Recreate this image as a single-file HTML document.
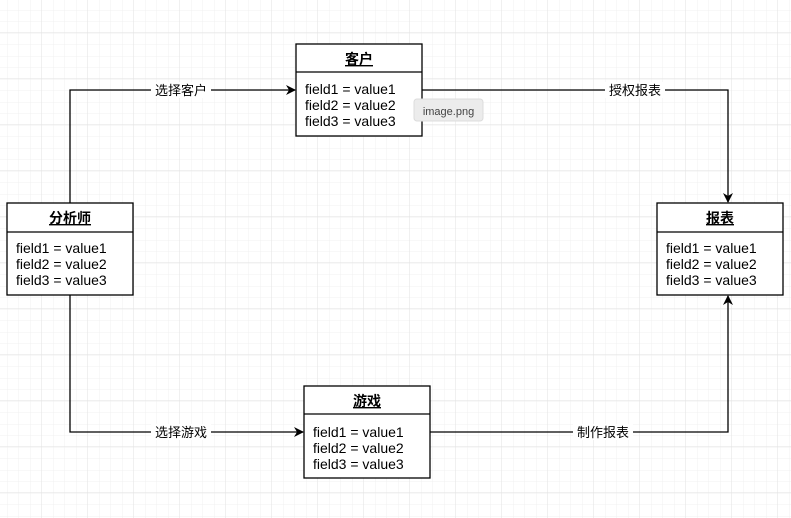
<!DOCTYPE html>
<html><head><meta charset="utf-8"><style>
html,body{margin:0;padding:0;background:#fff;}
svg{display:block;}
text{font-family:"Liberation Sans","Noto Sans CJK SC",sans-serif;}
</style></head><body>
<svg width="791" height="518" viewBox="0 0 791 518" xmlns="http://www.w3.org/2000/svg">
<defs>
<pattern id="g" width="11.5" height="11.5" patternUnits="userSpaceOnUse" x="-4" y="-1">
<path d="M11.5 0V11.5M0 11.5H11.5" stroke="#f0f0f0" stroke-width="1" fill="none"/>
</pattern>
<pattern id="G" width="46" height="46" patternUnits="userSpaceOnUse" x="-4" y="-13">
<path d="M46 0V46M0 46H46" stroke="#e2e2e2" stroke-width="1" fill="none"/>
</pattern>
<marker id="a" markerWidth="10" markerHeight="10" refX="9" refY="5" orient="auto" markerUnits="userSpaceOnUse">
<path d="M0,0 L10,5 L0,10 L3,5 Z" fill="#000"/>
</marker>
</defs>
<rect width="791" height="518" fill="#fff"/>
<rect width="791" height="518" fill="url(#g)"/>
<rect width="791" height="518" fill="url(#G)"/>

<g stroke="#000" stroke-width="1.3" fill="none">
<path d="M70 203 V90 H295" marker-end="url(#a)"/>
<path d="M422 90 H728 V202" marker-end="url(#a)"/>
<path d="M70 295 V432 H303" marker-end="url(#a)"/>
<path d="M430 432 H728 V296" marker-end="url(#a)"/>
</g>
<g font-size="13" fill="#000" text-anchor="middle">
<rect x="151" y="82" width="60" height="16" fill="#fff"/><text x="181" y="95">选择客户</text>
<rect x="605" y="82" width="60" height="16" fill="#fff"/><text x="635" y="95">授权报表</text>
<rect x="151" y="424" width="60" height="16" fill="#fff"/><text x="181" y="437">选择游戏</text>
<rect x="573" y="424" width="60" height="16" fill="#fff"/><text x="603" y="437">制作报表</text>
</g>

<g font-size="14" fill="#000">
<g transform="translate(296,44)">
<rect x="0" y="0" width="126" height="92" fill="#fff" stroke="#000" stroke-width="1.3"/>
<line x1="0" y1="28" x2="126" y2="28" stroke="#000" stroke-width="1.3"/>
<text x="63" y="20" text-anchor="middle" font-weight="bold" text-decoration="underline">客户</text>
<text x="9" y="50">field1 = value1</text><text x="9" y="66">field2 = value2</text><text x="9" y="82">field3 = value3</text>
</g>
<g transform="translate(7,203)">
<rect x="0" y="0" width="126" height="92" fill="#fff" stroke="#000" stroke-width="1.3"/>
<line x1="0" y1="29" x2="126" y2="29" stroke="#000" stroke-width="1.3"/>
<text x="63" y="20" text-anchor="middle" font-weight="bold" text-decoration="underline">分析师</text>
<text x="9" y="50">field1 = value1</text><text x="9" y="66">field2 = value2</text><text x="9" y="82">field3 = value3</text>
</g>
<g transform="translate(657,203)">
<rect x="0" y="0" width="126" height="92" fill="#fff" stroke="#000" stroke-width="1.3"/>
<line x1="0" y1="29" x2="126" y2="29" stroke="#000" stroke-width="1.3"/>
<text x="63" y="20" text-anchor="middle" font-weight="bold" text-decoration="underline">报表</text>
<text x="9" y="50">field1 = value1</text><text x="9" y="66">field2 = value2</text><text x="9" y="82">field3 = value3</text>
</g>
<g transform="translate(304,386)">
<rect x="0" y="0" width="126" height="92" fill="#fff" stroke="#000" stroke-width="1.3"/>
<line x1="0" y1="28" x2="126" y2="28" stroke="#000" stroke-width="1.3"/>
<text x="63" y="20" text-anchor="middle" font-weight="bold" text-decoration="underline">游戏</text>
<text x="9" y="51">field1 = value1</text><text x="9" y="67">field2 = value2</text><text x="9" y="83">field3 = value3</text>
</g>
</g>

<rect x="414" y="99" width="69" height="22" rx="3" fill="#ececec" stroke="#dcdcdc"/>
<text x="448.5" y="115" font-size="11" fill="#444" text-anchor="middle">image.png</text>
</svg>
</body></html>
